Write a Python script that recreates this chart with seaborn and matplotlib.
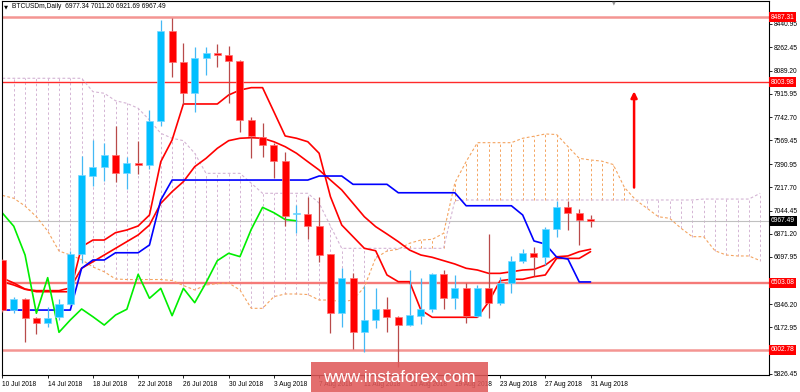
import numpy as np
import pandas as pd
import matplotlib
matplotlib.use("Agg")
import matplotlib.pyplot as plt
import matplotlib.transforms as mtransforms
from matplotlib.patches import Rectangle
import seaborn as sns

# ---------------- data ----------------
dates = pd.date_range("2018-07-10", periods=53, freq="D")

opens = [6673, 6304, 6384, 6242, 6207, 6247, 6346, 6719, 7304, 7372,
         7459, 7327, 7397, 7385, 7713, 8385, 8156, 7924, 8181, 8218,
         8206, 8163, 7720, 7596, 7531, 7414, 7019, 7016, 6929, 6717,
         6277, 6538, 6135, 6227, 6309, 6251, 6189, 6259, 6307, 6568,
         6389, 6463, 6259, 6463, 6356, 6505, 6670, 6725, 6700, 6904,
         7068, 7028, 6977.34]
highs = [6680, 6401, 6390, 6248, 6322, 6381, 6744, 7454, 7571, 7546,
         7675, 7446, 7563, 7795, 8467, 8480, 8293, 8268, 8268, 8288,
         8273, 8168, 7745, 7700, 7546, 7484, 7086, 7143, 7147, 6722,
         6617, 6575, 6481, 6463, 6401, 6255, 6600, 6538, 6575, 6600,
         6560, 6505, 6488, 6868, 6550, 6705, 6760, 6770, 6924, 7118,
         7118, 7053, 7011.20]
lows = [6290, 6277, 6060, 6122, 6177, 6227, 6340, 6650, 7230, 7267,
        7260, 7203, 7317, 7355, 7675, 8044, 7840, 7782, 8056, 8118,
        7845, 7633, 7434, 7446, 7285, 6927, 6880, 6830, 6662, 6128,
        6177, 6008, 5990, 6165, 6139, 5878, 6182, 6197, 6289, 6307,
        6307, 6207, 6252, 6240, 6339, 6426, 6650, 6557, 6637, 6849,
        6899, 6787, 6921.69]
closes = [6304, 6384, 6242, 6207, 6242, 6348, 6722, 7307, 7372, 7459,
          7327, 7397, 7385, 7713, 8385, 8156, 7924, 8181, 8223, 8203,
          8163, 7720, 7603, 7531, 7414, 7006, 7025, 6927, 6712, 6277,
          6543, 6135, 6227, 6309, 6251, 6189, 6264, 6307, 6568, 6389,
          6463, 6259, 6463, 6356, 6505, 6670, 6725, 6700, 6904, 7068,
          7028, 6977, 6967.49]

tenkan = [6540, 6503, 6458, 6438, 6438, 6438, 6438, 6774, 6824, 6824,
          6879, 6899, 6929, 7011, 7409, 7571, 7840, 7840, 7840, 7840,
          7907, 7944, 7962, 7962, 7782, 7601, 7584, 7558, 7472, 7148,
          6936, 6849, 6762, 6744, 6563, 6513, 6513, 6301, 6247, 6247,
          6247, 6247, 6247, 6363, 6520, 6531, 6531, 6550, 6563, 6687,
          6687, 6687, 6737]
kijun = [6301, 6301, 6301, 6301, 6301, 6301, 6301, 6613, 6675, 6675,
         6729, 6729, 6729, 6787, 7123, 7272, 7272, 7272, 7272, 7272,
         7272, 7272, 7272, 7272, 7272, 7272, 7272, 7272, 7302, 7302,
         7302, 7240, 7240, 7240, 7240, 7177, 7177, 7177, 7177, 7177,
         7177, 7080, 7080, 7080, 7080, 7080, 7011, 6817, 6794, 6697,
         6682, 6511, 6511]
ma_line = [6513, 6488, 6456, 6446, 6446, 6446, 6466, 6613, 6662, 6712,
           6762, 6812, 6862, 6936, 7098, 7185, 7260, 7372, 7434, 7509,
           7566, 7584, 7588, 7584, 7558, 7521, 7472, 7409, 7347, 7272,
           7198, 7098, 6998, 6924, 6869, 6812, 6749, 6712, 6695, 6670,
           6645, 6613, 6600, 6575, 6575, 6587, 6600, 6605, 6637, 6699,
           6705, 6737, 6755]
senkou_a = [7157, 7136, 7078, 6998, 6891, 6742, 6712, 6677, 6623, 6587,
            6533, 6529, 6529, 6529, 6529, 6522, 6484, 6451, 6488, 6499,
            6503, 6451, 6314, 6314, 6401, 6421, 6421, 6417, 6376, 6376,
            6363, 6376, 6473, 6690, 6742, 6755, 6800, 6824, 6829, 6874,
            7250, 7410, 7551, 7551, 7551, 7551, 7584, 7599, 7616, 7612,
            7522, 7434, 7422, 7413, 7388, 7216, 7123, 7061, 6998, 6986,
            6912, 6849, 6849, 6744, 6712, 6705, 6705, 6670]
senkou_b = [8032, 8032, 8032, 8032, 8032, 8032, 8032, 8032, 7932, 7920,
            7864, 7845, 7808, 7720, 7621, 7584, 7566, 7472, 7322, 7322,
            7322, 7322, 7248, 7173, 7173, 7173, 7173, 7173, 7100, 6929,
            6762, 6762, 6762, 6762, 6762, 6762, 6762, 6762, 6762, 6762,
            7118, 7123, 7123, 7123, 7123, 7123, 7123, 7123, 7123, 7123,
            7123, 7123, 7123, 7123, 7123, 7123, 7123, 7123, 7123, 7123,
            7123, 7123, 7130, 7130, 7130, 7130, 7130, 7173]
chikou_shift = 26

level_lines = [8487.31, 8003.98, 6503.08, 6002.78]
level_colors = ["#F49592", "#FF2A2A", "#F57A78", "#F49592"]
level_widths = [1.8, 1.0, 1.7, 1.8]
current_price = 6967.49
y_ticks = [8440.95, 8262.45, 8089.20, 7915.95, 7742.70, 7569.45, 7390.95,
           7217.70, 7044.45, 6871.20, 6697.95, 6346.20, 6172.95, 5826.45]
tick_every = 4
header = "BTCUSDm,Daily  6977.34 7011.20 6921.69 6967.49"
arrow_bar = 55.85
arrow_from = 7216
arrow_to = 7935
watermark = "www.instaforex.com"

# ---------------- style ----------------
sns.set_style("white")
plt.rcParams["font.family"] = ["Liberation Sans", "DejaVu Sans"]
FS = 4.8

fig = plt.figure(figsize=(8, 3.92), dpi=100)
ax = fig.add_axes([2 / 800, 17 / 392, 767 / 800, 374.5 / 392])
ax.set_facecolor("white")

n = len(closes)
x = np.arange(n)
o = np.array(opens, float)
h = np.array(highs, float)
l = np.array(lows, float)
c = np.array(closes, float)
sa = np.array(senkou_a, float)
sb = np.array(senkou_b, float)
xc = np.arange(len(sa))

# cloud hatching (vertical dotted lines)
bull_cloud = sa >= sb
ax.vlines(xc[bull_cloud], np.minimum(sa, sb)[bull_cloud], np.maximum(sa, sb)[bull_cloud],
          colors="#F4A460", linestyles=(0, (2.5, 2.5)), lw=0.7, zorder=1)
ax.vlines(xc[~bull_cloud], np.minimum(sa, sb)[~bull_cloud], np.maximum(sa, sb)[~bull_cloud],
          colors="#D4B4D4", linestyles=(0, (2.5, 2.5)), lw=0.7, zorder=1)

sns.lineplot(x=xc, y=sa, ax=ax, color="#F4A460", lw=0.8, linestyle=(0, (2.5, 2.0)),
             estimator=None, sort=False, legend=False, zorder=1.5)
sns.lineplot(x=xc, y=sb, ax=ax, color="#D4B4D4", lw=0.8, linestyle=(0, (2.5, 2.0)),
             estimator=None, sort=False, legend=False, zorder=1.5)

# horizontal levels
ax.axhline(current_price, color="#C0C0C0", lw=0.8, zorder=1.2)
for lv, lc, lw in zip(level_lines, level_colors, level_widths):
    ax.axhline(lv, color=lc, lw=lw, zorder=1.3)

# indicator lines
sns.lineplot(x=x, y=ma_line, ax=ax, color="#FF0000", lw=1.2, estimator=None, sort=False,
             legend=False, zorder=2)
sns.lineplot(x=x, y=tenkan, ax=ax, color="#FF0000", lw=1.2, estimator=None, sort=False,
             legend=False, zorder=2)
sns.lineplot(x=x, y=kijun, ax=ax, color="#0000FF", lw=1.2, estimator=None, sort=False,
             legend=False, zorder=2)
sns.lineplot(x=x[: n - chikou_shift], y=c[chikou_shift:], ax=ax, color="#00EE00", lw=1.2,
             estimator=None, sort=False, legend=False, zorder=2)

# candles
up = c > o
dn = ~up
ax.vlines(x[up], l[up], h[up], colors="#45B8F5", lw=0.9, zorder=3)
ax.vlines(x[dn], l[dn], h[dn], colors="#B84A4A", lw=0.9, zorder=3)
bot = np.minimum(o, c)
ht = np.maximum(np.abs(c - o), 7)
ax.bar(x[up], ht[up], bottom=bot[up], width=0.62, color="#00BFFF",
       edgecolor="#7AD6FF", lw=0.5, zorder=4)
ax.bar(x[dn], ht[dn], bottom=bot[dn], width=0.62, color="#FF0000",
       edgecolor="#FF7070", lw=0.5, zorder=4)

# arrow
ax.annotate("", xy=(arrow_bar, arrow_to), xytext=(arrow_bar, arrow_from),
            arrowprops=dict(arrowstyle="-|>", color="#FF0000", lw=1.8,
                            mutation_scale=9, shrinkA=0, shrinkB=0), zorder=5)

# axes
ax.set_xlim(-0.04, 67.78)
ax.set_ylim(5816, 8612.8)
for s in ax.spines.values():
    s.set_color("black")
    s.set_linewidth(0.8)

ax.set_xticks(x[::tick_every])
ax.set_xticklabels([f"{d.day} {d.strftime('%b %Y')}" for d in dates[::tick_every]])
for lbl in ax.get_xticklabels():
    lbl.set_ha("left")
ax.tick_params(axis="x", direction="out", length=2, width=0.6, pad=2,
               labelsize=FS, colors="black", bottom=True)
ax.yaxis.tick_right()
ax.set_yticks(y_ticks)
ax.set_yticklabels([f"{v:.2f}" for v in y_ticks])
ax.tick_params(axis="y", direction="out", length=2, width=0.6, pad=1.5,
               labelsize=FS, colors="black", right=True, left=False)
ax.grid(False)

# price tags on the right
tr = mtransforms.blended_transform_factory(ax.transAxes, ax.transData)
for lv in level_lines:
    ax.text(1.0025, lv, f"{lv:.2f}", transform=tr, ha="left", va="center",
            fontsize=FS, color="white", zorder=6,
            bbox=dict(boxstyle="square,pad=0.25", fc="#FF0000", ec="none"))
ax.text(1.0025, current_price, f"{current_price:.2f}", transform=tr, ha="left", va="center",
        fontsize=FS, color="white", zorder=6,
        bbox=dict(boxstyle="square,pad=0.25", fc="#000000", ec="none"))

# header
fig.text(4 / 800, 1 - 7 / 392, "▼", fontsize=3.8, color="black", va="center", ha="left",
         family=["DejaVu Sans"])
fig.text(12 / 800, 1 - 7 / 392, header, fontsize=FS, color="black", va="center", ha="left")
fig.text(614 / 800, 1 - 3 / 392, "▼", fontsize=3.5, color="#909090", va="center", ha="center",
         family=["DejaVu Sans"])

# watermark
fig.patches.append(Rectangle((311 / 800, 0), 177 / 800, 30 / 392, transform=fig.transFigure,
                             fc="#E05A5A", ec="none", alpha=0.88, zorder=5))
fig.text(399 / 800, 15 / 392, watermark, fontsize=12.3, color="white", ha="center",
         va="center", zorder=6)

fig.savefig("out.png", dpi=100, facecolor="white")
